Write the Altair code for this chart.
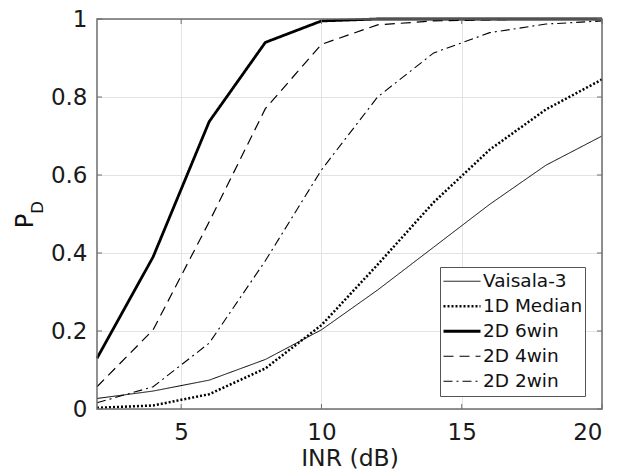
import altair as alt
import pandas as pd

# ---- data ----
inr = [2, 4, 6, 8, 10, 12, 14, 16, 18, 20]
series_names = ["Vaisala-3", "1D Median", "2D 6win", "2D 4win", "2D 2win"]
vaisala = [0.027, 0.046, 0.074, 0.127, 0.203, 0.305, 0.415, 0.525, 0.625, 0.70]
median1d = [0.003, 0.009, 0.038, 0.104, 0.215, 0.37, 0.53, 0.665, 0.768, 0.845]
win6 = [0.13, 0.39, 0.737, 0.94, 0.995, 1.0, 1.0, 1.0, 1.0, 1.0]
win4 = [0.057, 0.203, 0.48, 0.77, 0.935, 0.985, 0.995, 0.998, 1.0, 1.0]
win2 = [0.016, 0.057, 0.169, 0.38, 0.613, 0.80, 0.913, 0.965, 0.987, 0.995]
x_ticks = [5, 10, 15, 20]
y_ticks = [0, 0.2, 0.4, 0.6, 0.8, 1]

# ---- styles ----
dashes = [[1, 0], [2, 2], [1, 0], [10, 6], [9, 4, 2, 4]]
widths = [1.0, 2.5, 2.8, 1.2, 1.1]
FONT = "DejaVu Sans"
FRAME = "#6e6e6e"
W, H = 505, 390

rows = []
for name, vals in zip(series_names, [vaisala, median1d, win6, win4, win2]):
    for xv, yv in zip(inr, vals):
        rows.append({"INR": xv, "PD": yv, "series": name})
df = pd.DataFrame(rows)

xscale = alt.Scale(domain=[2, 20], nice=False, zero=False)
yscale = alt.Scale(domain=[0, 1], nice=False)

legend = alt.Legend(
    title=None, orient="none", legendX=343, legendY=248,
    symbolType="stroke", symbolSize=1369, symbolStrokeColor="black",
    labelFont=FONT, labelFontSize=18.5, labelColor="#111111",
    fillColor="white", strokeColor="#555555", padding=2,
    clipHeight=24.5, rowPadding=0, labelOffset=1, symbolOffset=0,
    labelLimit=0,
)

lines = alt.Chart(df).mark_line(color="black", strokeCap="butt").encode(
    x=alt.X("INR:Q", scale=xscale,
            axis=alt.Axis(values=x_ticks, title="INR (dB)", grid=True,
                          labelPadding=12, titleY=56, titleBaseline="alphabetic")),
    y=alt.Y("PD:Q", scale=yscale,
            axis=alt.Axis(values=y_ticks, format="~g", title=None, grid=True,
                          labelPadding=10)),
    strokeDash=alt.StrokeDash("series:N", scale=alt.Scale(domain=series_names, range=dashes),
                              legend=legend),
    strokeWidth=alt.StrokeWidth("series:N",
                                scale=alt.Scale(type="ordinal", domain=series_names, range=widths),
                                legend=legend),
)

xt = pd.DataFrame({"INR": x_ticks})
yt = pd.DataFrame({"PD": y_ticks})
tick_b = alt.Chart(xt).mark_rule(color=FRAME, strokeWidth=1).encode(
    x=alt.X("INR:Q", scale=xscale), y=alt.value(H), y2=alt.value(H - 5))
tick_t = alt.Chart(xt).mark_rule(color=FRAME, strokeWidth=1).encode(
    x=alt.X("INR:Q", scale=xscale), y=alt.value(0), y2=alt.value(5))
tick_l = alt.Chart(yt).mark_rule(color=FRAME, strokeWidth=1).encode(
    y=alt.Y("PD:Q", scale=yscale), x=alt.value(0), x2=alt.value(5))
tick_r = alt.Chart(yt).mark_rule(color=FRAME, strokeWidth=1).encode(
    y=alt.Y("PD:Q", scale=yscale), x=alt.value(W), x2=alt.value(W - 5))

frame = alt.Chart(pd.DataFrame({"a": [0]})).mark_rect(
    fill="transparent", stroke=FRAME, strokeWidth=1.5).encode(
    x=alt.value(0), x2=alt.value(W), y=alt.value(0), y2=alt.value(H))

p_txt = alt.Chart(pd.DataFrame({"t": ["P"]})).mark_text(
    angle=270, font=FONT, fontSize=24, align="center", baseline="middle", color="#111111").encode(
    text="t:N", x=alt.value(-71), y=alt.value(202))
d_txt = alt.Chart(pd.DataFrame({"t": ["D"]})).mark_text(
    angle=270, font=FONT, fontSize=16.5, align="center", baseline="middle", color="#111111").encode(
    text="t:N", x=alt.value(-59), y=alt.value(188.5))

chart = alt.layer(lines, tick_b, tick_t, tick_l, tick_r, frame, p_txt, d_txt).properties(
    width=W, height=H, autosize="none",
    padding={"left": 89, "top": 11, "right": 18, "bottom": 61},
).configure_view(stroke=None).configure_axis(
    domain=False, ticks=False,
    labelFont=FONT, labelFontSize=23, labelColor="#1a1a1a",
    titleFont=FONT, titleFontSize=23.5, titleFontWeight="normal", titleColor="#1a1a1a",
    gridColor="#e3e3e3", gridWidth=1,
)

chart.save("out.html", embed_options={"renderer": "svg", "actions": False})
